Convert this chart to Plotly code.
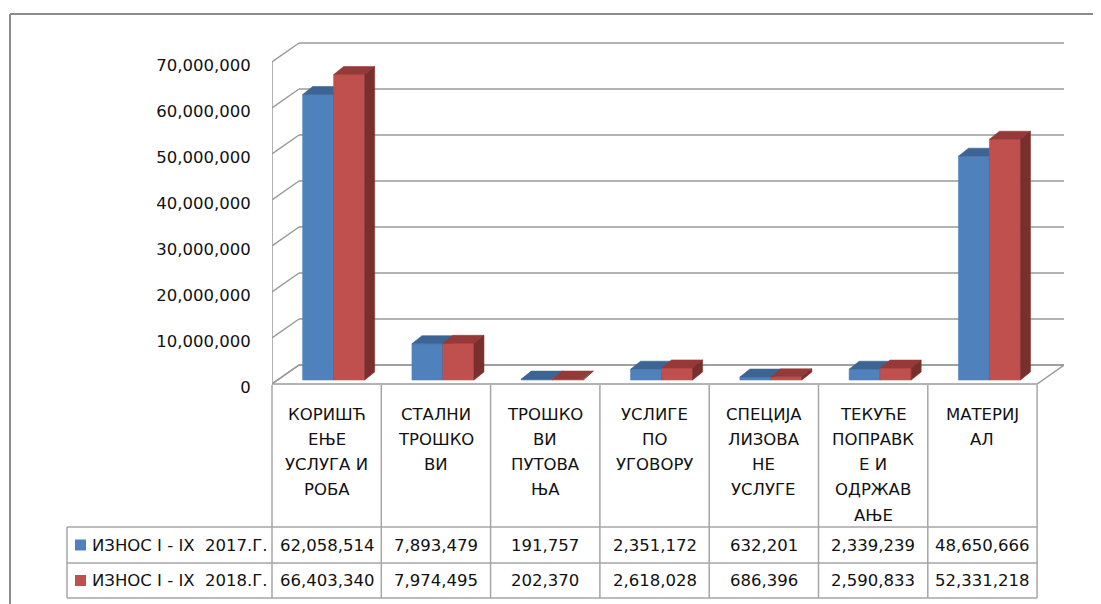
import plotly.graph_objects as go

# ---------------- data ----------------
category_lines = [
    ["КОРИШЋ", "ЕЊЕ", "УСЛУГА И", "РОБА"],
    ["СТАЛНИ", "ТРОШКО", "ВИ"],
    ["ТРОШКО", "ВИ", "ПУТОВА", "ЊА"],
    ["УСЛИГЕ", "ПО", "УГОВОРУ"],
    ["СПЕЦИЈА", "ЛИЗОВА", "НЕ", "УСЛУГЕ"],
    ["ТЕКУЋЕ", "ПОПРАВК", "Е И", "ОДРЖАВ", "АЊЕ"],
    ["МАТЕРИЈ", "АЛ"],
]
series_names = ["ИЗНОС I - IX \u00a02017.Г.", "ИЗНОС I - IX \u00a02018.Г."]
values_2017 = [62058514, 7893479, 191757, 2351172, 632201, 2339239, 48650666]
values_2018 = [66403340, 7974495, 202370, 2618028, 686396, 2590833, 52331218]
y_ticks = [0, 10000000, 20000000, 30000000, 40000000, 50000000, 60000000, 70000000]

# ---------------- geometry / style ----------------
OFF = 8                       # page body margin
W, H = 1101 - OFF, 604 - OFF  # figure size
# page-pixel layout of the plot area
P_LEFT, P_RIGHT, P_TOP, P_BOT = 272, 1064, 39, 386
ML, MT = P_LEFT - OFF, P_TOP - OFF
MR, MB = W - (P_RIGHT - OFF), H - (P_BOT - OFF)
PLOT_W = P_RIGHT - P_LEFT
PLOT_H = P_BOT - P_TOP
PX_CAT = 109.3
PX_UNIT = 4.6 / 1e6
Y_FRONT0 = 384
x_max = PLOT_W / PX_CAT
y_max = (Y_FRONT0 - P_TOP) / PX_UNIT
y_min = -(P_BOT - Y_FRONT0) / PX_UNIT

wdx, wdy = 27 / PX_CAT, 19 / PX_UNIT      # wall depth
fdx, fdy = 7 / PX_CAT, 4 / PX_UNIT        # bar front-face depth offset
bdx, bdy = 10 / PX_CAT, 8 / PX_UNIT       # bar depth
bw = 31 / PX_CAT                          # bar width
n = len(values_2017)

FONT = "DejaVu Sans"
FS = 16.5
GRID = "#9a9a9a"
TBL = "#a6a6a6"
TXT = "#111111"
colors = [
    {"front": "#4F81BD", "top": "#3C6594", "side": "#2F4F77"},
    {"front": "#C0504D", "top": "#953A38", "side": "#7B2F2D"},
]


def px_x(p):
    return (p - P_LEFT) / PLOT_W


def px_y(p):
    return (P_BOT - p) / PLOT_H


fig = go.Figure()

# bars as 3D boxes (front, top, side faces)
for s, vals in enumerate([values_2017, values_2018]):
    faces = {"front": ([], []), "top": ([], []), "side": ([], [])}
    for i, v in enumerate(vals):
        c = i + 0.5
        xl = c - bw + fdx if s == 0 else c + fdx
        xr = xl + bw
        y0, y1 = fdy, fdy + v
        polys = {
            "front": [(xl, y0), (xr, y0), (xr, y1), (xl, y1)],
            "top": [(xl, y1), (xr, y1), (xr + bdx, y1 + bdy), (xl + bdx, y1 + bdy)],
            "side": [(xr, y0), (xr + bdx, y0 + bdy), (xr + bdx, y1 + bdy), (xr, y1)],
        }
        for k, pts in polys.items():
            xs, ys = faces[k]
            xs += [p[0] for p in pts] + [pts[0][0], None]
            ys += [p[1] for p in pts] + [pts[0][1], None]
    for k in ["front", "top", "side"]:
        xs, ys = faces[k]
        fig.add_trace(go.Scatter(
            x=xs, y=ys, mode="lines", fill="toself",
            fillcolor=colors[s][k], line=dict(color=colors[s][k], width=0.6),
            hoverinfo="skip", showlegend=False,
        ))

shapes = []
# floor
shapes.append(dict(type="path", xref="x", yref="y", layer="below",
                   path=f"M 0 0 L {n} 0 L {n + wdx} {wdy} L {wdx} {wdy} Z",
                   line=dict(color=GRID, width=1.5), fillcolor="white"))
# walls & gridlines
for v in y_ticks:
    shapes.append(dict(type="line", xref="x", yref="y", layer="below",
                       x0=wdx, y0=v + wdy, x1=n + wdx, y1=v + wdy,
                       line=dict(color=GRID, width=1.5)))
    shapes.append(dict(type="line", xref="x", yref="y", layer="below",
                       x0=0, y0=v, x1=wdx, y1=v + wdy,
                       line=dict(color=GRID, width=1.5)))
shapes.append(dict(type="line", xref="x", yref="y", layer="below",
                   x0=0, y0=0, x1=0, y1=y_ticks[-1],
                   line=dict(color=GRID, width=1.5)))

# data table
col_px = [P_LEFT + i * PX_CAT for i in range(n + 1)]
tbl_top, row1_top, row2_top, tbl_bot = 385, 527, 563, 598
leg_left = 67
for p in col_px:
    shapes.append(dict(type="line", xref="paper", yref="paper",
                       x0=px_x(p), x1=px_x(p), y0=px_y(tbl_top), y1=px_y(tbl_bot),
                       line=dict(color=TBL, width=1.5)))
shapes.append(dict(type="line", xref="paper", yref="paper",
                   x0=px_x(leg_left), x1=px_x(leg_left), y0=px_y(row1_top), y1=px_y(tbl_bot),
                   line=dict(color=TBL, width=1.5)))
for p in [row1_top, row2_top, tbl_bot]:
    shapes.append(dict(type="line", xref="paper", yref="paper",
                       x0=px_x(leg_left), x1=px_x(col_px[-1]), y0=px_y(p), y1=px_y(p),
                       line=dict(color=TBL, width=1.5)))
# legend keys
for s, (r0, r1) in enumerate([(row1_top, row2_top), (row2_top, tbl_bot)]):
    cy = (r0 + r1) / 2
    shapes.append(dict(type="rect", xref="paper", yref="paper",
                       x0=px_x(75), x1=px_x(86), y0=px_y(cy - 5.5), y1=px_y(cy + 5.5),
                       fillcolor=colors[s]["front"], line=dict(width=0)))
# outer chart border
shapes.append(dict(type="line", xref="paper", yref="paper",
                   x0=px_x(10), x1=px_x(1110), y0=px_y(14), y1=px_y(14),
                   line=dict(color="#8c8c8c", width=2)))
shapes.append(dict(type="line", xref="paper", yref="paper",
                   x0=px_x(10), x1=px_x(10), y0=px_y(14), y1=px_y(612),
                   line=dict(color="#8c8c8c", width=2)))

annotations = []
# category header labels (one annotation per line)
for i, lines in enumerate(category_lines):
    cx = (col_px[i] + col_px[i + 1]) / 2
    for k, t in enumerate(lines):
        annotations.append(dict(xref="paper", yref="paper", x=px_x(cx), y=px_y(414 + 25.3 * k),
                                text=t, showarrow=False, xanchor="center", yanchor="middle",
                                font=dict(family=FONT, size=FS, color=TXT)))
# value rows
for s, (vals, (r0, r1)) in enumerate(zip([values_2017, values_2018],
                                          [(row1_top, row2_top), (row2_top, tbl_bot)])):
    cy = (r0 + r1) / 2
    annotations.append(dict(xref="paper", yref="paper", x=px_x(90), y=px_y(cy),
                            text=series_names[s], showarrow=False, xanchor="left", yanchor="middle",
                            font=dict(family=FONT, size=FS, color=TXT)))
    for i, v in enumerate(vals):
        cx = (col_px[i] + col_px[i + 1]) / 2
        annotations.append(dict(xref="paper", yref="paper", x=px_x(cx), y=px_y(cy),
                                text=f"{v:,}", showarrow=False, xanchor="center", yanchor="middle",
                                font=dict(family=FONT, size=FS, color=TXT)))

fig.update_layout(
    width=W, height=H, autosize=False,
    margin=dict(l=ML, r=MR, t=MT, b=MB),
    paper_bgcolor="white", plot_bgcolor="white",
    showlegend=False,
    shapes=shapes, annotations=annotations,
    xaxis=dict(range=[0, x_max], visible=False, fixedrange=True),
    yaxis=dict(range=[y_min, y_max], showgrid=False, zeroline=False, showline=False,
               tickvals=y_ticks, tickformat=",d", ticks="outside", ticklen=17,
               tickcolor="rgba(0,0,0,0)", ticklabelshift=3,
               tickfont=dict(family=FONT, size=FS, color=TXT), fixedrange=True),
)

fig.write_html("out.html")
